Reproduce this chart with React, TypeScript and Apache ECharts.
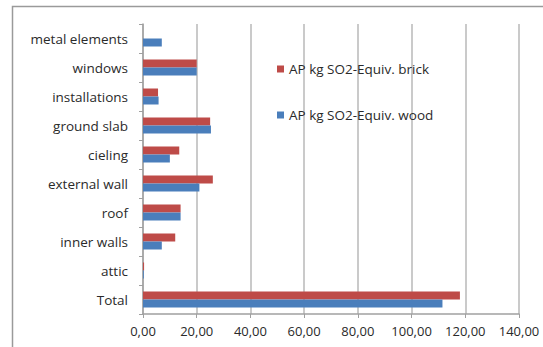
import React, { useEffect, useRef } from "react";
import * as echarts from "echarts";

// categories listed bottom-to-top (ECharts category y-axis starts at bottom)
const categories = [
  "Total",
  "attic",
  "inner walls",
  "roof",
  "external wall",
  "cieling",
  "ground slab",
  "installations",
  "windows",
  "metal elements",
];
const brick = [118, 0.4, 12, 14, 26, 13.5, 25, 5.6, 20, 0];
const wood = [111.5, 0.3, 7, 14, 21, 10, 25.3, 5.8, 20, 7];
const seriesNames = ["AP kg SO2-Equiv. brick", "AP kg SO2-Equiv. wood"];
const xTicks = { min: 0, max: 140, interval: 20 };

export default function App() {
  const ref = useRef<HTMLDivElement>(null);
  useEffect(() => {
    document.body.style.margin = "0";
    const chart = echarts.init(ref.current!, null, { renderer: "svg" });
    const font = "Open Sans";
    chart.setOption({
      animation: false,
      backgroundColor: "#ffffff",
      graphic: [
        {
          type: "rect",
          shape: { x: 12.5, y: 6.5, width: 560, height: 380 },
          style: { fill: "none", stroke: "#9a9a9a", lineWidth: 1.5 },
          silent: true,
        },
      ],
      grid: { left: 143, right: 24, top: 24, bottom: 33 },
      legend: {
        orient: "vertical",
        left: 272,
        top: 57,
        itemGap: 32,
        itemWidth: 7,
        itemHeight: 7,
        icon: "rect",
        textStyle: { fontFamily: font, fontSize: 13.5, color: "#2a2a2a" },
        data: [seriesNames[0], seriesNames[1]],
      },
      xAxis: {
        type: "value",
        min: xTicks.min,
        max: xTicks.max,
        interval: xTicks.interval,
        axisLine: { show: true, lineStyle: { color: "#a0a0a0", width: 1.5 } },
        axisTick: { show: true, length: 4, lineStyle: { color: "#a0a0a0" } },
        splitLine: { show: true, lineStyle: { color: "#b8b8b8", width: 1.5 } },
        axisLabel: {
          fontFamily: font,
          fontSize: 13,
          color: "#2a2a2a",
          margin: 10,
          formatter: (v: number) => v.toFixed(2).replace(".", ","),
        },
      },
      yAxis: {
        type: "category",
        data: categories,
        axisLine: { show: true, lineStyle: { color: "#a0a0a0", width: 1.5 } },
        axisTick: { show: true, length: 4, lineStyle: { color: "#a0a0a0" } },
        axisLabel: { fontFamily: font, fontSize: 13.5, color: "#2a2a2a", margin: 15 },
      },
      series: [
        {
          name: seriesNames[0],
          type: "bar",
          data: brick,
          barWidth: 8,
          barGap: "0%",
          itemStyle: { color: "#be4b48" },
        },
        {
          name: seriesNames[1],
          type: "bar",
          data: wood,
          barWidth: 8,
          barGap: "0%",
          itemStyle: { color: "#4a7ebb" },
        },
      ],
    });
    return () => chart.dispose();
  }, []);
  return <div ref={ref} style={{ width: 543, height: 347 }} />;
}
